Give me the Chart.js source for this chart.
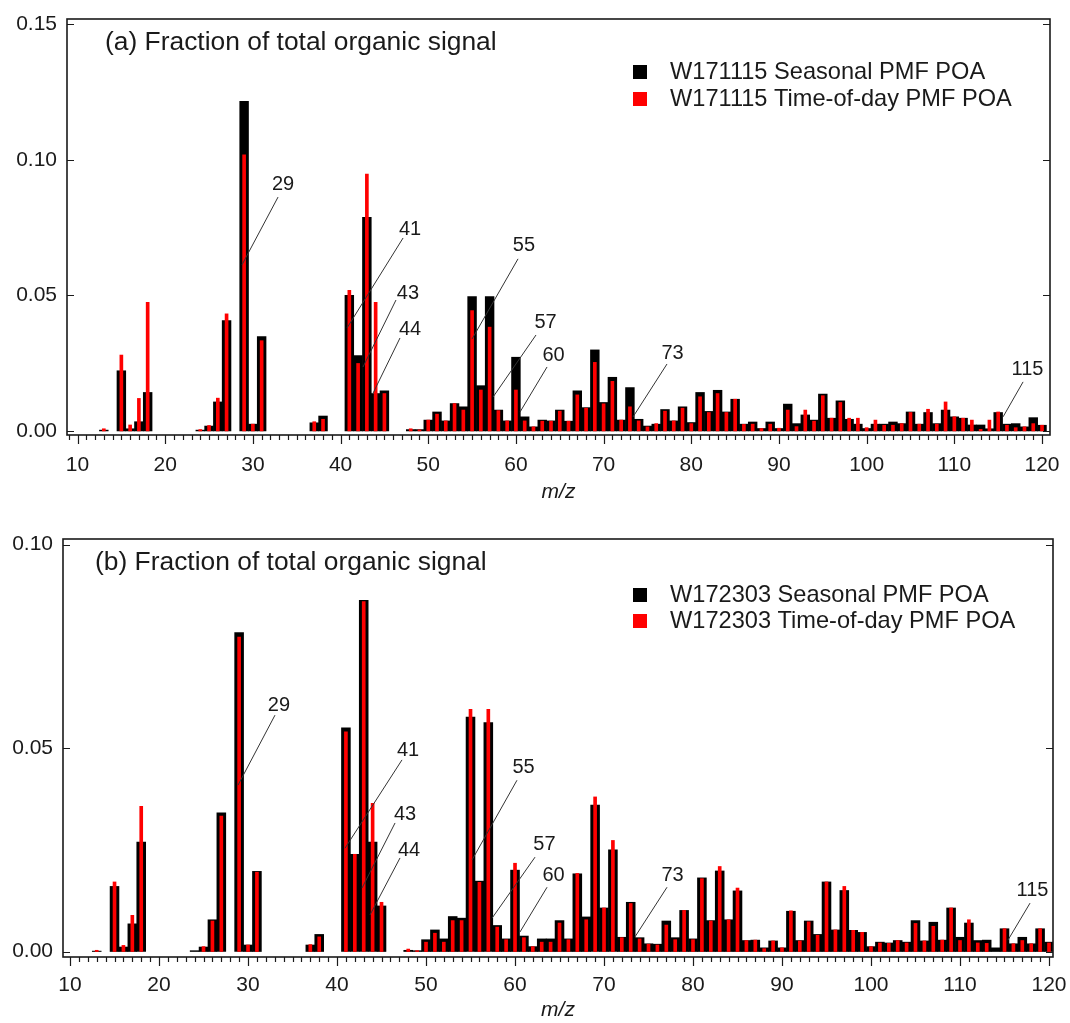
<!DOCTYPE html>
<html>
<head>
<meta charset="utf-8">
<title>Fraction of total organic signal</title>
<script src="https://cdn.jsdelivr.net/npm/chart.js@4.4.0/dist/chart.umd.min.js"></script>
<style>
  html, body { margin: 0; padding: 0; background: #fff; }
  #wrap { position: relative; width: 1070px; height: 1023px; }
  canvas { position: absolute; left: 0; }
</style>
</head>
<body>
<div id="wrap">
  <canvas id="panelA" width="1070" height="515" style="top:0px"></canvas>
  <canvas id="panelB" width="1070" height="508" style="top:515px"></canvas>
</div>
<script>
// m/z channels (12 .. 120)
const mz = [
  12, 13, 14, 15, 16, 17, 18, 19, 20, 21,
  22, 23, 24, 25, 26, 27, 28, 29, 30, 31,
  32, 33, 34, 35, 36, 37, 38, 39, 40, 41,
  42, 43, 44, 45, 46, 47, 48, 49, 50, 51,
  52, 53, 54, 55, 56, 57, 58, 59, 60, 61,
  62, 63, 64, 65, 66, 67, 68, 69, 70, 71,
  72, 73, 74, 75, 76, 77, 78, 79, 80, 81,
  82, 83, 84, 85, 86, 87, 88, 89, 90, 91,
  92, 93, 94, 95, 96, 97, 98, 99, 100, 101,
  102, 103, 104, 105, 106, 107, 108, 109, 110, 111,
  112, 113, 114, 115, 116, 117, 118, 119, 120
];

// W171115 POA spectra
const seasonalA = [
  0, 0.0003, 0, 0.0222, 0.0008, 0.0034, 0.0142, 0, 0, 0,
  0, 0, 0.0003, 0.0018, 0.0107, 0.0407, 0, 0.1216, 0.0025, 0.0348,
  0, 0, 0, 0, 0, 0.0030, 0.0055, 0, 0, 0.0500,
  0.0278, 0.0788, 0.0138, 0.0148, 0, 0, 0.0005, 0.0005, 0.0040, 0.0070,
  0.0037, 0.0101, 0.0089, 0.0496, 0.0167, 0.0496, 0.0077, 0.0037, 0.0272, 0.0052,
  0.0015, 0.0040, 0.0037, 0.0077, 0.0036, 0.0148, 0.0086, 0.0299, 0.0105, 0.0198,
  0.0040, 0.0160, 0.0043, 0.0018, 0.0025, 0.0079, 0.0037, 0.0089, 0.0031, 0.0142,
  0.0072, 0.0150, 0.0070, 0.0117, 0.0025, 0.0033, 0.0009, 0.0033, 0.0009, 0.0099,
  0.0027, 0.0059, 0.0040, 0.0136, 0.0047, 0.0111, 0.0043, 0.0025, 0.0009, 0.0025,
  0.0025, 0.0033, 0.0027, 0.0070, 0.0025, 0.0068, 0.0027, 0.0077, 0.0052, 0.0047,
  0.0022, 0.0022, 0.0008, 0.0068, 0.0025, 0.0027, 0.0015, 0.0049, 0.0021
];
const timeOfDayA = [
  0, 0.0008, 0, 0.0280, 0.0022, 0.0120, 0.0475, 0, 0, 0,
  0, 0, 0.0005, 0.0020, 0.0121, 0.0432, 0, 0.1019, 0.0025, 0.0333,
  0, 0, 0, 0, 0, 0.0034, 0.0043, 0, 0, 0.0519,
  0.0249, 0.0948, 0.0475, 0.0138, 0, 0, 0.0008, 0.0004, 0.0040, 0.0062,
  0.0037, 0.0101, 0.0077, 0.0444, 0.0151, 0.0383, 0.0075, 0.0037, 0.0151, 0.0037,
  0.0015, 0.0036, 0.0036, 0.0073, 0.0036, 0.0133, 0.0084, 0.0253, 0.0100, 0.0183,
  0.0040, 0.0089, 0.0037, 0.0015, 0.0027, 0.0073, 0.0037, 0.0084, 0.0027, 0.0126,
  0.0068, 0.0138, 0.0068, 0.0117, 0.0024, 0.0025, 0.0009, 0.0025, 0.0010, 0.0077,
  0.0016, 0.0077, 0.0036, 0.0130, 0.0047, 0.0105, 0.0047, 0.0047, 0.0012, 0.0040,
  0.0021, 0.0021, 0.0027, 0.0068, 0.0025, 0.0080, 0.0025, 0.0107, 0.0052, 0.0047,
  0.0040, 0.0006, 0.0040, 0.0070, 0.0021, 0.0012, 0.0015, 0.0027, 0.0021
];

// W172303 POA spectra
const seasonalB = [
  0, 0.0001, 0, 0.0160, 0.0011, 0.0068, 0.0269, 0, 0, 0,
  0, 0, 0.0002, 0.0011, 0.0078, 0.0341, 0, 0.0784, 0.0016, 0.0197,
  0, 0, 0, 0, 0, 0.0016, 0.0042, 0, 0, 0.0550,
  0.0239, 0.0863, 0.0269, 0.0112, 0, 0, 0.0003, 0.0002, 0.0029, 0.0053,
  0.0031, 0.0086, 0.0082, 0.0576, 0.0173, 0.0563, 0.0064, 0.0031, 0.0200, 0.0038,
  0.0012, 0.0031, 0.0031, 0.0076, 0.0031, 0.0191, 0.0085, 0.0360, 0.0107, 0.0250,
  0.0035, 0.0121, 0.0034, 0.0019, 0.0018, 0.0075, 0.0034, 0.0101, 0.0031, 0.0181,
  0.0076, 0.0198, 0.0078, 0.0149, 0.0027, 0.0028, 0.0009, 0.0026, 0.0009, 0.0099,
  0.0027, 0.0075, 0.0042, 0.0171, 0.0053, 0.0150, 0.0052, 0.0047, 0.0012, 0.0023,
  0.0021, 0.0027, 0.0023, 0.0076, 0.0026, 0.0072, 0.0028, 0.0107, 0.0035, 0.0070,
  0.0027, 0.0028, 0.0009, 0.0056, 0.0019, 0.0035, 0.0019, 0.0056, 0.0023
];
const timeOfDayB = [
  0, 0.0003, 0, 0.0171, 0.0015, 0.0089, 0.0357, 0, 0, 0,
  0, 0, 0, 0.0012, 0.0075, 0.0333, 0, 0.0773, 0.0016, 0.0195,
  0, 0, 0, 0, 0, 0.0017, 0.0036, 0, 0, 0.0540,
  0.0239, 0.0860, 0.0364, 0.0121, 0, 0, 0.0006, 0.0002, 0.0023, 0.0045,
  0.0023, 0.0076, 0.0076, 0.0595, 0.0170, 0.0595, 0.0060, 0.0029, 0.0217, 0.0034,
  0.0012, 0.0023, 0.0023, 0.0070, 0.0029, 0.0192, 0.0078, 0.0380, 0.0107, 0.0273,
  0.0034, 0.0118, 0.0031, 0.0018, 0.0016, 0.0065, 0.0029, 0.0101, 0.0029, 0.0179,
  0.0075, 0.0209, 0.0078, 0.0156, 0.0027, 0.0028, 0.0007, 0.0026, 0.0009, 0.0100,
  0.0026, 0.0073, 0.0040, 0.0171, 0.0053, 0.0160, 0.0052, 0.0047, 0.0012, 0.0021,
  0.0020, 0.0027, 0.0021, 0.0069, 0.0026, 0.0062, 0.0028, 0.0107, 0.0027, 0.0078,
  0.0021, 0.0020, 0, 0.0056, 0.0019, 0.0027, 0.0019, 0.0056, 0.0021
];

// axis tick labels
const xTickLabels = [10, 20, 30, 40, 50, 60, 70, 80, 90, 100, 110, 120];
const yTicksA = [0, 0.05, 0.10, 0.15];
const yTicksB = [0, 0.05, 0.10];

// peak labels: leader line from/to (m/z, fraction) and text centre
const calloutsA = [
  { text: '29',  from: [28.76, 0.0613], to: [32.87, 0.0863], at: [33.44, 0.0910] },
  { text: '41',  from: [40.74, 0.0380], to: [47.13, 0.0712], at: [47.92, 0.0744] },
  { text: '43',  from: [42.56, 0.0236], to: [46.32, 0.0483], at: [47.69, 0.0506] },
  { text: '44',  from: [43.70, 0.0139], to: [46.78, 0.0343], at: [47.92, 0.0373] },
  { text: '55',  from: [54.99, 0.0339], to: [60.24, 0.0635], at: [60.92, 0.0683] },
  { text: '57',  from: [57.39, 0.0125], to: [62.29, 0.0354], at: [63.38, 0.0400] },
  { text: '60',  from: [60.47, 0.0070], to: [63.55, 0.0236], at: [64.29, 0.0279] },
  { text: '73',  from: [73.36, 0.0052], to: [77.23, 0.0247], at: [77.86, 0.0286] },
  { text: '115', from: [115.56, 0.0052], to: [117.84, 0.0181], at: [118.35, 0.0227] }
];
const calloutsB = [
  { text: '29',  from: [28.88, 0.0409], to: [33.03, 0.0581], at: [33.48, 0.0604] },
  { text: '41',  from: [40.90, 0.0254], to: [47.30, 0.0471], at: [47.98, 0.0494] },
  { text: '43',  from: [42.81, 0.0156], to: [46.52, 0.0316], at: [47.64, 0.0337] },
  { text: '44',  from: [43.71, 0.0090], to: [47.08, 0.0230], at: [48.09, 0.0248] },
  { text: '55',  from: [55.17, 0.0225], to: [60.22, 0.0421], at: [60.96, 0.0452] },
  { text: '57',  from: [57.42, 0.0082], to: [62.25, 0.0232], at: [63.31, 0.0263] },
  { text: '60',  from: [60.56, 0.0048], to: [63.60, 0.0158], at: [64.33, 0.0186] },
  { text: '73',  from: [73.48, 0.0036], to: [77.08, 0.0158], at: [77.70, 0.0187] },
  { text: '115', from: [115.39, 0.0028], to: [117.87, 0.0119], at: [118.15, 0.0150] }
];

const FONT = "'Liberation Sans', Arial, Helvetica, sans-serif";
const INK = '#1a1a1a';

// frame, ticks, panel title, legend and peak labels
const panelDecor = {
  id: 'panelDecor',
  afterDraw(chart, args, o) {
    const { ctx, chartArea: { left, right, top, bottom }, scales: { x, y } } = chart;
    ctx.save();
    ctx.strokeStyle = INK;

    // x ticks, pointing out of the frame
    ctx.lineWidth = 1.2;
    ctx.beginPath();
    for (let v = Math.ceil(x.min); v <= Math.floor(x.max); v++) {
      const px = Math.round(x.getPixelForValue(v)) + 0.5;
      const len = v % 10 === 0 ? 9 : 5;
      ctx.moveTo(px, bottom);
      ctx.lineTo(px, bottom + len);
    }
    // y ticks, pointing into the frame on both sides
    y.ticks.forEach(t => {
      const py = Math.round(y.getPixelForValue(t.value)) + 0.5;
      ctx.moveTo(left, py); ctx.lineTo(left + 7, py);
      ctx.moveTo(right, py); ctx.lineTo(right - 7, py);
    });
    ctx.stroke();

    // frame
    ctx.lineWidth = 1.6;
    ctx.strokeRect(left, top, right - left, bottom - top);

    // panel title
    ctx.fillStyle = INK;
    ctx.textBaseline = 'middle';
    ctx.textAlign = 'left';
    ctx.font = o.titleSize + 'px ' + FONT;
    ctx.fillText(o.title, o.titleX, o.titleY);

    // legend
    ctx.font = o.legendSize + 'px ' + FONT;
    chart.data.datasets.forEach((d, i) => {
      const cy = o.legendY + i * o.legendGap;
      ctx.fillStyle = d.backgroundColor;
      ctx.fillRect(o.legendX, cy - 7, 14, 14);
      ctx.fillStyle = INK;
      ctx.fillText(d.label, o.legendX + 37, cy);
    });

    // peak labels with leader lines
    ctx.lineWidth = 1;
    ctx.strokeStyle = '#333';
    ctx.font = o.calloutSize + 'px ' + FONT;
    ctx.textAlign = 'center';
    o.callouts.forEach(c => {
      ctx.beginPath();
      ctx.moveTo(x.getPixelForValue(c.from[0]), y.getPixelForValue(c.from[1]));
      ctx.lineTo(x.getPixelForValue(c.to[0]), y.getPixelForValue(c.to[1]));
      ctx.stroke();
      ctx.fillText(c.text, x.getPixelForValue(c.at[0]), y.getPixelForValue(c.at[1]));
    });
    ctx.restore();
  }
};

function buildPanel(id, p) {
  // channels with no signal are left empty rather than drawn as zero-height bars
  const bars = (label, values, color, order, thickness) => ({
    label,
    data: mz.map((m, i) => ({ x: m, y: values[i] === 0 ? null : values[i] })),
    backgroundColor: color,
    borderWidth: 0,
    grouped: false,
    order,
    barPercentage: 1,
    categoryPercentage: 1,
    barThickness: thickness
  });
  return new Chart(document.getElementById(id), {
    type: 'bar',
    data: {
      datasets: [
        bars(p.names[0], p.seasonal, '#000000', 1, undefined),
        bars(p.names[1], p.timeOfDay, '#ff0000', 0, 3)
      ]
    },
    options: {
      responsive: false,
      animation: false,
      devicePixelRatio: 1,
      layout: { padding: p.padding },
      plugins: {
        legend: { display: false },
        tooltip: { enabled: false },
        panelDecor: p.decor
      },
      scales: {
        x: {
          type: 'linear',
          min: p.xMin,
          max: p.xMax,
          offset: false,
          grid: { display: false, drawTicks: false },
          border: { display: false },
          afterBuildTicks: s => { s.ticks = xTickLabels.map(v => ({ value: v })); },
          afterFit: s => { s.height = p.xAxisHeight; s.paddingLeft = 0; s.paddingRight = 0; },
          ticks: {
            autoSkip: false, maxRotation: 0, padding: p.xTickPad, color: INK,
            font: { family: FONT, size: 21 },
            callback: v => String(v)
          },
          title: {
            display: true, text: 'm/z', color: INK,
            font: { family: FONT, size: 21, style: 'italic' },
            padding: { top: 0, bottom: p.xTitlePad }
          }
        },
        y: {
          min: p.yMin,
          max: p.yMax,
          grid: { display: false, drawTicks: false },
          border: { display: false },
          afterBuildTicks: s => { s.ticks = p.yTicks.map(v => ({ value: v })); },
          afterFit: s => { s.width = p.yAxisWidth; s.paddingTop = 0; s.paddingBottom = 0; },
          ticks: {
            padding: 10, color: INK,
            font: { family: FONT, size: 21 },
            callback: v => Number(v).toFixed(2)
          }
        }
      }
    },
    plugins: [panelDecor]
  });
}

buildPanel('panelA', {
  names: ['W171115 Seasonal PMF POA', 'W171115 Time-of-day PMF POA'],
  seasonal: seasonalA,
  timeOfDay: timeOfDayA,
  xMin: 8.8, xMax: 120.91,
  yMin: -0.0015, yMax: 0.152,
  yTicks: yTicksA,
  padding: { left: 0, top: 19, right: 20, bottom: 0 },
  yAxisWidth: 67,
  xAxisHeight: 80,
  xTickPad: 18,
  xTitlePad: 10,
  decor: {
    title: '(a) Fraction of total organic signal', titleX: 105, titleY: 43, titleSize: 26.4,
    legendX: 633, legendY: 72, legendGap: 27, legendSize: 23.6,
    calloutSize: 20, callouts: calloutsA
  }
});

buildPanel('panelB', {
  names: ['W172303 Seasonal PMF POA', 'W172303 Time-of-day PMF POA'],
  seasonal: seasonalB,
  timeOfDay: timeOfDayB,
  xMin: 9.21, xMax: 120.45,
  yMin: -0.00135, yMax: 0.1014,
  yTicks: yTicksB,
  padding: { left: 0, top: 24, right: 17, bottom: 0 },
  yAxisWidth: 63,
  xAxisHeight: 66,
  xTickPad: 16,
  xTitlePad: 0,
  decor: {
    title: '(b) Fraction of total organic signal', titleX: 95, titleY: 48, titleSize: 26.4,
    legendX: 633, legendY: 80, legendGap: 26, legendSize: 23.6,
    calloutSize: 20, callouts: calloutsB
  }
});
</script>
</body>
</html>
